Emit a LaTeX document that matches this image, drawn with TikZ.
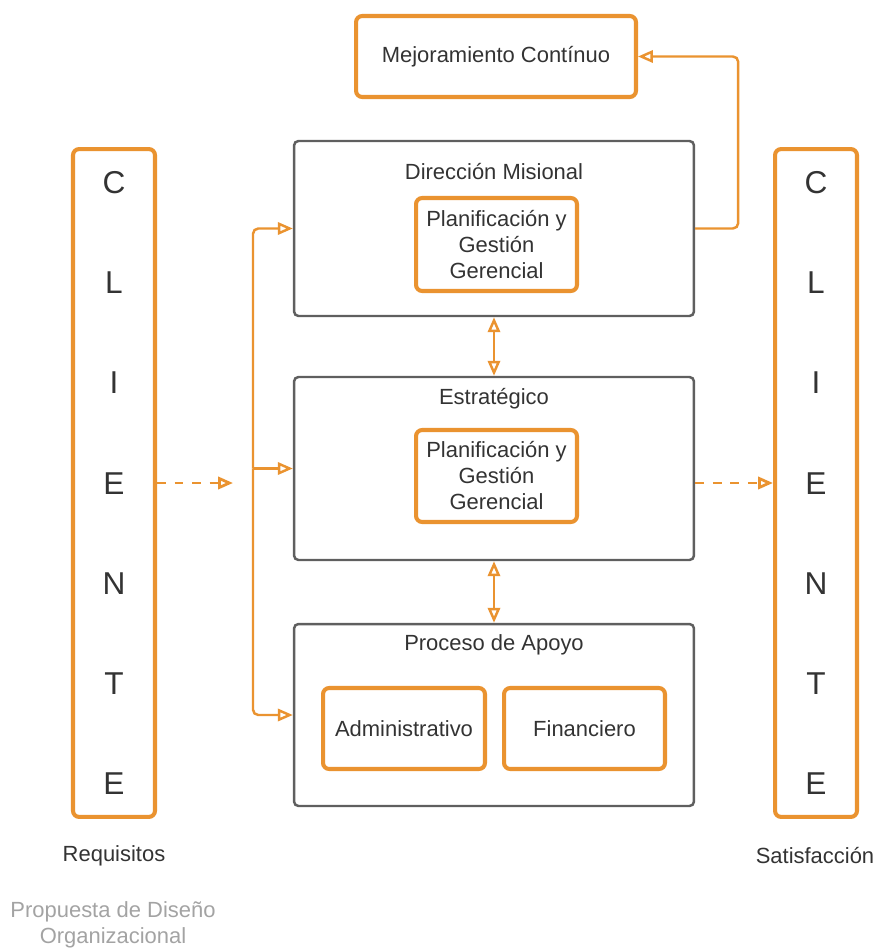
\documentclass[tikz,border=0pt]{standalone}
\usepackage{fontspec}
\setmainfont{Liberation Sans}
\definecolor{ProcOrange}{HTML}{EA9330}
\definecolor{ProcGray}{HTML}{5F5F5F}
\definecolor{ProcInk}{HTML}{333333}
\definecolor{ProcNote}{HTML}{A3A3A3}
\usetikzlibrary{arrows.meta, positioning, calc}

\begin{document}
\begin{tikzpicture}[x=0.02cm, y=-0.02cm, >={Triangle[open, length=8.5pt, width=7pt]},
    font=\fontsize{12.5}{14.8}\selectfont, text=ProcInk,
    obox/.style={draw=ProcOrange, line width=2.3pt, rounded corners=3.5pt,
      align=center, inner sep=0pt},
    gbox/.style={draw=ProcGray, line width=1.4pt, rounded corners=2.5pt,
      minimum width=8cm, inner sep=0pt},
    cliente/.style={obox, minimum width=1.64cm, minimum height=13.36cm,
      font=\fontsize{18}{57}\selectfont},
    flow/.style={draw=ProcOrange, line width=1.4pt, rounded corners=3pt},
    dflow/.style={flow, line width=1.6pt, dash pattern=on 5pt off 5pt}]
  \useasboundingbox (0,0) rectangle (877,949);

  % clientes
  \node[cliente] (cliL) at (114,483) {C\\L\\I\\E\\N\\T\\E};
  \node[cliente] (cliR) at (816,483) {C\\L\\I\\E\\N\\T\\E};
  \node (req) at (114,856) {Requisitos};
  \node (sat) at (815,856) {Satisfacción};
  \node[align=center, text=ProcNote] (prop) at (113,925)
    {Propuesta de Diseño\\Organizacional};

  % procesos
  \node[obox, minimum width=5.6cm, minimum height=1.62cm] (mejora) at (496,56.5)
    {Mejoramiento Contínuo};
  \node[gbox, minimum height=3.5cm] (dir) at (494,228.5) {};
  \node (dirT) at (494,172) {Dirección Misional};
  \node[obox, minimum width=3.22cm, minimum height=1.86cm] (dirP) at (496.5,244.5)
    {Planificación y\\Gestión\\Gerencial};

  \node[gbox, minimum height=3.66cm] (est) at (494,468.5) {};
  \node (estT) at (494,399) {Estratégico};
  \node[obox, minimum width=3.22cm, minimum height=1.84cm] (estP) at (496.5,476)
    {Planificación y\\Gestión\\Gerencial};

  \node[gbox, minimum height=3.64cm] (apoyo) at (494,715) {};
  \node (apoyoT) at (494,645) {Proceso de Apoyo};
  \node[obox, minimum width=3.24cm, minimum height=1.62cm] (adm) at (404,728.5)
    {Administrativo};
  \node[obox, minimum width=3.22cm, minimum height=1.62cm] (fin) at (584.5,728.5)
    {Financiero};

  % conectores
  \coordinate (bus) at (253,0);
  \coordinate (entrada) at (233,483);
  \draw[flow, ->] (dir.east) -- ++(43,0) |- (mejora.east);
  \draw[flow, ->] (est.west -| bus) |- (dir.west);
  \draw[flow, ->] (est.west -| bus) -- (est.west);
  \draw[flow, ->] (est.west -| bus) |- (apoyo.west);
  \draw[flow, <->] (dir.south) -- (est.north);
  \draw[flow, <->] (est.south) -- (apoyo.north);
  \draw[dflow, ->] (cliL.east) -- (entrada);
  \draw[dflow, ->] (est.east |- cliR.west) -- (cliR.west);
\end{tikzpicture}
\end{document}
